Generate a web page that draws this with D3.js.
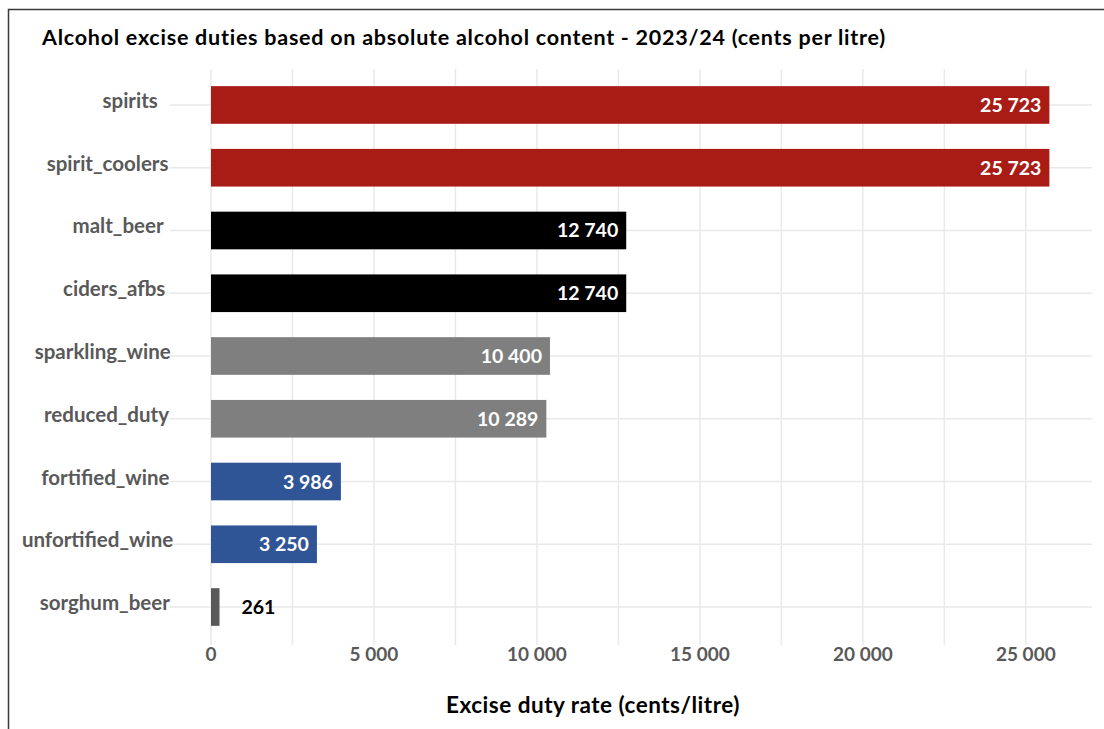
<!DOCTYPE html>
<html>
<head>
<meta charset="utf-8">
<script src="https://cdn.jsdelivr.net/npm/d3@7"></script>
<style>
    html, body { margin: 0; padding: 0; background: #fff; }
    #chart { width: 1104px; height: 729px; }
    text { font-family: Lato, "Open Sans", sans-serif; font-weight: bold; }
</style>
</head>
<body>
<div id="chart"></div>
<script>
const categories = ["spirits", "spirit_coolers", "malt_beer", "ciders_afbs", "sparkling_wine",
                    "reduced_duty", "fortified_wine", "unfortified_wine", "sorghum_beer"];
const dutyValues = [25723, 25723, 12740, 12740, 10400, 10289, 3986, 3250, 261];
const barColors  = ["#a81c15", "#a81c15", "#000000", "#000000", "#7f7f7f",
                    "#7f7f7f", "#2f5597", "#2f5597", "#595959"];
const tickValues = [0, 5000, 10000, 15000, 20000, 25000];
const gridValues = [0, 2500, 5000, 7500, 10000, 12500, 15000, 17500, 20000, 22500, 25000];

function BarChart() {

    let self = this;

    self.initialize = function(elId) {
        self.el = document.getElementById(elId);
        self.graphWidth = 1104;
        self.graphHeight = 729;
        self.fmt = d3.formatLocale({decimal: ",", thousands: " ", grouping: [3], currency: ["", ""]}).format(",d");

        self.xScale = d3.scaleLinear().domain([0, 27000]).range([211, 1091]);
        self.yScale = d3.scaleBand().domain(categories)
                        .range([73.6, 638.4])
                        .paddingInner(0.4).paddingOuter(0.2);
        self.render();
    }

    self.render = function() {
        self.svg = d3.select(self.el).append("svg")
                        .attr("width", self.graphWidth)
                        .attr("height", self.graphHeight);

        /*  frame of the figure  */
        self.svg.append("path")
            .attr("d", "M8.5,729 L8.5,9.5 L1104,9.5")
            .attr("fill", "none")
            .attr("stroke", "#3a3a3a")
            .attr("stroke-width", 1.5);

        self.svg.append("text")
            .attr("x", 42).attr("y", 45)
            .attr("font-size", 21.5)
            .attr("letter-spacing", 0.75)
            .attr("fill", "#000")
            .text("Alcohol excise duties based on absolute alcohol content - 2023/24 (cents per litre)");

        self.renderGrid();
        self.renderBars();
        self.renderAxes();
    }

    self.renderGrid = function() {
        self.svg.append("g").selectAll("line")
            .data(gridValues)
            .enter().append("line")
            .attr("x1", d => self.xScale(d)).attr("x2", d => self.xScale(d))
            .attr("y1", 69).attr("y2", 645)
            .attr("stroke", "#e9e9e9").attr("stroke-width", 1.5);

        self.svg.append("g").selectAll("line")
            .data(categories)
            .enter().append("line")
            .attr("x1", 170).attr("x2", 1092)
            .attr("y1", d => self.yScale(d) + self.yScale.bandwidth() / 2)
            .attr("y2", d => self.yScale(d) + self.yScale.bandwidth() / 2)
            .attr("stroke", "#e9e9e9").attr("stroke-width", 1.5);
    }

    self.renderBars = function() {
        let data = categories.map((c, i) => ({key: c, value: dutyValues[i], color: barColors[i]}));

        self.svg.selectAll(".bar")
            .data(data)
            .enter().append("rect")
            .attr("class", "bar")
            .attr("x", self.xScale(0))
            .attr("y", d => self.yScale(d.key))
            .attr("width", d => self.xScale(d.value) - self.xScale(0))
            .attr("height", self.yScale.bandwidth())
            .attr("fill", d => d.color);

        /*  value labels: inside end, the small one outside  */
        self.svg.selectAll(".val")
            .data(data)
            .enter().append("text")
            .attr("class", "val")
            .attr("x", d => d.value > 1000 ? self.xScale(d.value) - 8 : self.xScale(d.value) + 22)
            .attr("y", d => self.yScale(d.key) + self.yScale.bandwidth() / 2 + 7)
            .attr("text-anchor", d => d.value > 1000 ? "end" : "start")
            .attr("font-size", 19.5)
            .attr("fill", d => d.value > 1000 ? "#fff" : "#000")
            .text(d => self.fmt(d.value));
    }

    self.renderAxes = function() {
        /*  excel places longer labels a bit further right  */
        self.svg.append("g").selectAll("text")
            .data(categories)
            .enter().append("text")
            .attr("y", d => self.yScale(d) + self.yScale.bandwidth() / 2 + 3)
            .attr("text-anchor", "end")
            .attr("font-size", 20.5)
            .attr("fill", "#595959")
            .text(d => d)
            .attr("x", function() {
                return 149 + 0.16 * this.getComputedTextLength();
            });

        self.svg.append("g").selectAll("text")
            .data(tickValues)
            .enter().append("text")
            .attr("x", d => self.xScale(d))
            .attr("y", 661)
            .attr("text-anchor", "middle")
            .attr("font-size", 19)
            .attr("fill", "#595959")
            .text(d => self.fmt(d));

        self.svg.append("text")
            .attr("x", 593).attr("y", 713)
            .attr("text-anchor", "middle")
            .attr("font-size", 22.5)
            .attr("letter-spacing", 0.5)
            .attr("fill", "#000")
            .text("Excise duty rate (cents/litre)");
    }
}

let chart = new BarChart();
chart.initialize("chart");
</script>
</body>
</html>
